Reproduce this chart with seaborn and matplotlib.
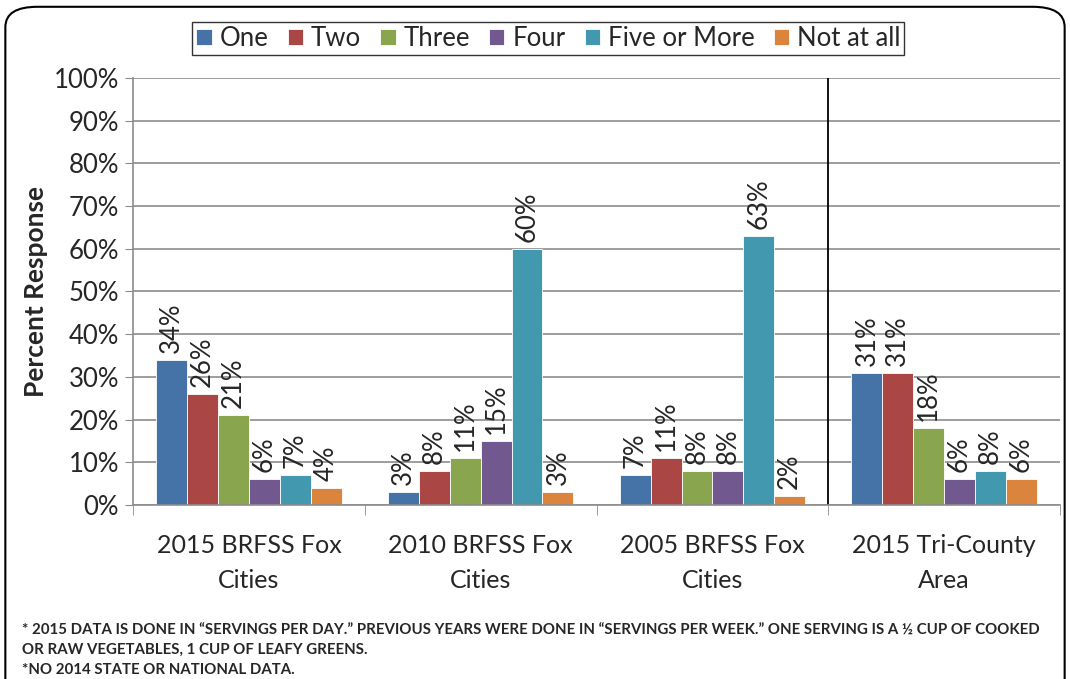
import pandas as pd
import numpy as np
import matplotlib
matplotlib.use("Agg")
import matplotlib.pyplot as plt
import seaborn as sns
from matplotlib.patches import FancyBboxPatch

groups = ["2015 BRFSS Fox\nCities", "2010 BRFSS Fox\nCities", "2005 BRFSS Fox\nCities", "2015 Tri-County\nArea"]
series = ["One", "Two", "Three", "Four", "Five or More", "Not at all"]
one = [34, 3, 7, 31]
two = [26, 8, 11, 31]
three = [21, 11, 8, 18]
four = [6, 15, 8, 6]
five_plus = [7, 60, 63, 8]
not_at_all = [4, 3, 2, 6]
colors = ["#4572A7", "#AA4643", "#89A54E", "#71588F", "#4198AF", "#DB843D"]
footnote = ("* 2015 DATA IS DONE IN \u201cSERVINGS PER DAY.\u201d PREVIOUS YEARS WERE DONE IN \u201cSERVINGS PER WEEK.\u201d "
            "ONE SERVING IS A \u00bd CUP OF COOKED\nOR RAW VEGETABLES, 1 CUP OF LEAFY GREENS.\n"
            "*NO 2014 STATE OR NATIONAL DATA.")

rows = []
for name, vals in zip(series, [one, two, three, four, five_plus, not_at_all]):
    for g, v in zip(groups, vals):
        rows.append({"group": g, "series": name, "value": v})
df = pd.DataFrame(rows)

sns.set_style("white")
plt.rcParams["font.family"] = ["Lato", "DejaVu Sans"]

fig = plt.figure(figsize=(10.7, 6.79), dpi=100)
ax = fig.add_axes([0.1243, 0.2563, 0.8664, 0.6288])

sns.barplot(data=df, x="group", y="value", hue="series", hue_order=series,
            order=groups, palette=colors, width=0.8, saturation=1, ax=ax,
            edgecolor="white", linewidth=0.6, legend=True)

for cont in ax.containers:
    ax.bar_label(cont, labels=[f"{int(v)}%" for v in cont.datavalues],
                 rotation=90, padding=5, fontsize=18.5)

ax.set_ylim(0, 100)
ax.set_xlim(-0.5, 3.5)
ax.set_yticks(np.arange(0, 101, 10))
ax.set_yticklabels([f"{t}%" for t in range(0, 101, 10)], fontsize=18.5)
ax.yaxis.grid(True, color="#8c8c8c", linewidth=1.2)
ax.set_axisbelow(True)
ax.set_xlabel("")
ax.set_ylabel("Percent Response", fontsize=19, fontweight="bold", labelpad=4)
ax.set_xticks(range(len(groups)))
ax.set_xticklabels(groups, fontsize=18, linespacing=1.6)
ax.tick_params(axis="x", length=0, pad=21)
ax.tick_params(axis="y", length=6, color="#8c8c8c", left=True, pad=4)
ax.set_xticks(np.arange(-0.5, 3.6, 1), minor=True)
ax.tick_params(axis="x", which="minor", length=7, color="#8c8c8c", bottom=True)

for side in ["top", "right"]:
    ax.spines[side].set_visible(False)
ax.spines["left"].set_color("#8c8c8c")
ax.spines["bottom"].set_color("#8c8c8c")
ax.spines["left"].set_linewidth(1.2)
ax.spines["bottom"].set_linewidth(1.2)

ax.axvline(2.5, color="black", linewidth=1.3)

handles, labels = ax.get_legend_handles_labels()
ax.legend(handles, labels, loc="upper center", bbox_to_anchor=(0.448, 1.131), ncol=6,
          fontsize=18.5, frameon=True, fancybox=False, edgecolor="black",
          handlelength=0.6, handleheight=0.6, handletextpad=0.3, columnspacing=0.75,
          borderpad=0.15, borderaxespad=0)

fig.text(0.021, 0.082, footnote, fontsize=10.8, fontweight="bold",
         va="top", linespacing=1.52)

border = FancyBboxPatch((0.005, -0.05), 0.99, 1.04, transform=fig.transFigure,
                        boxstyle="round,pad=0,rounding_size=0.03", fill=False,
                        edgecolor="black", linewidth=1.5)
fig.patches.append(border)

fig.savefig("out.png", dpi=100)
